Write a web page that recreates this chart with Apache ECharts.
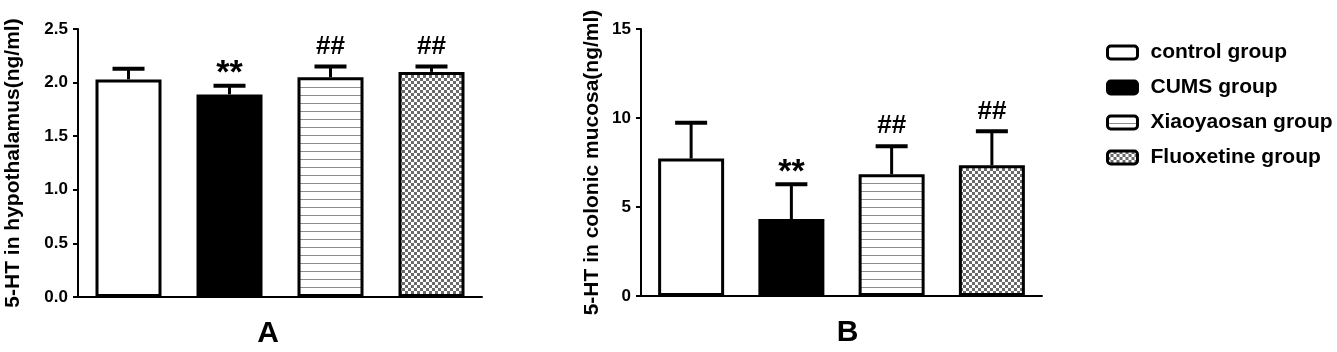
<!DOCTYPE html>
<html><head><meta charset="utf-8">
<script src="https://cdn.jsdelivr.net/npm/echarts@6/dist/echarts.min.js"></script>
<style>html,body{margin:0;padding:0;background:#fff}#c{width:1337px;height:352px}</style>
</head><body><div id="c"></div>
<script>
const groups = ['control group', 'CUMS group', 'Xiaoyaosan group', 'Fluoxetine group'];
const meanA = [2.03, 1.89, 2.05, 2.10];
const sdA = [0.10, 0.08, 0.10, 0.05];
const meanB = [7.72, 4.32, 6.84, 7.34];
const sdB = [2.02, 1.96, 1.57, 1.91];
const marks = ['', '**', '##', '##'];
const ticksA = ['0.0', '0.5', '1.0', '1.5', '2.0', '2.5'];
const ticksB = ['0', '5', '10', '15'];
const panelLabels = ['A', 'B'];
const titlesY = ['5-HT in hypothalamus(ng/ml)', '5-HT in colonic mucosa(ng/ml)'];

const FONT = '"Liberation Sans", Arial, sans-serif';
const markStyle = { '**': { size: 34, dy: -12 }, '##': { size: 26, dy: -20 }, '': { size: 20, dy: 0 } };

function stripes() {
  const c = document.createElement('canvas'); c.width = 8; c.height = 8;
  const g = c.getContext('2d');
  g.fillStyle = '#fff'; g.fillRect(0, 0, 8, 8);
  g.fillStyle = '#8c8c8c'; g.fillRect(0, 7, 8, 1);
  return c;
}
function checker() {
  const c = document.createElement('canvas'); c.width = 6; c.height = 6;
  const g = c.getContext('2d');
  g.fillStyle = '#fff'; g.fillRect(0, 0, 6, 6);
  g.fillStyle = '#6a6a6a'; g.fillRect(0, 0, 3, 3); g.fillRect(3, 3, 3, 3);
  return c;
}
const fills = ['#ffffff', '#000000', { image: stripes(), repeat: 'repeat' }, { image: checker(), repeat: 'repeat' }];

const panels = [
  { means: meanA, sds: sdA, ticks: ticksA, max: 2.5, interval: 0.5, grid: { left: 78, top: 29, width: 404, height: 268 }, nameGap: 54, labelPad: [0, 24, 0, 0] },
  { means: meanB, sds: sdB, ticks: ticksB, max: 15, interval: 5, grid: { left: 641, top: 29, width: 401, height: 267 }, nameGap: 38, labelPad: [0, 0, 0, 12] }
];

const grids = [], xAxes = [], yAxes = [], series = [];
panels.forEach((p, g) => {
  grids.push(Object.assign({ containLabel: false, outerBoundsMode: 'none' }, p.grid));
  xAxes.push({
    type: 'category', gridIndex: g, data: groups,
    axisLine: { lineStyle: { color: '#000', width: 2 } },
    axisTick: { show: false }, axisLabel: { show: false },
    name: panelLabels[g], nameLocation: 'middle', nameGap: 22,
    nameTextStyle: { fontFamily: FONT, fontWeight: 'bold', fontSize: 30, color: '#000', padding: p.labelPad }
  });
  yAxes.push({
    type: 'value', gridIndex: g, min: 0, max: p.max, interval: p.interval,
    splitLine: { show: false },
    axisLine: { show: true, lineStyle: { color: '#000', width: 2 } },
    axisTick: { show: true, length: 5, lineStyle: { color: '#000', width: 2 } },
    axisLabel: {
      margin: 10, fontFamily: FONT, fontWeight: 'bold', fontSize: 17, color: '#000',
      formatter: v => p.ticks[Math.round(v / p.interval)]
    },
    name: titlesY[g], nameLocation: 'middle', nameGap: p.nameGap,
    nameTextStyle: { fontFamily: FONT, fontWeight: 'bold', fontSize: 21, color: '#000' }
  });
  groups.forEach((name, i) => {
    series.push({
      name, type: 'bar', xAxisIndex: g, yAxisIndex: g,
      data: p.means.map((v, j) => (j === i ? v : '-')),
      barWidth: 66, barGap: '-100%',
      itemStyle: { color: fills[i], borderColor: '#000', borderWidth: 3 },
      emphasis: { disabled: true }
    });
  });
  series.push({
    type: 'custom', xAxisIndex: g, yAxisIndex: g, z: 5,
    data: p.means.map((m, i) => [i, m, p.sds[i]]),
    encode: { x: 0, y: 1 },
    renderItem: (params, api) => {
      const i = api.value(0), m = api.value(1), s = api.value(2);
      const p0 = api.coord([i, m]);
      const p1 = api.coord([i, m + s]);
      const ms = markStyle[marks[i]];
      return {
        type: 'group', children: [
          { type: 'line', shape: { x1: p0[0], y1: p0[1], x2: p1[0], y2: p1[1] }, style: { stroke: '#000', lineWidth: 3 } },
          { type: 'line', shape: { x1: p1[0] - 16, y1: p1[1], x2: p1[0] + 16, y2: p1[1] }, style: { stroke: '#000', lineWidth: 4 } },
          { type: 'text', style: { text: marks[i], x: p1[0], y: p1[1] + ms.dy, align: 'center', verticalAlign: 'middle', font: 'bold ' + ms.size + 'px ' + FONT, fill: '#000' } }
        ]
      };
    }
  });
});

const chart = echarts.init(document.getElementById('c'), null, { renderer: 'canvas' });
chart.setOption({
  animation: false,
  backgroundColor: '#fff',
  grid: grids, xAxis: xAxes, yAxis: yAxes, series,
  legend: {
    data: groups, orient: 'vertical', left: 1101, top: 37,
    icon: 'roundRect', itemWidth: 30, itemHeight: 13, itemGap: 14,
    itemStyle: { borderColor: '#000', borderWidth: 3 },
    textStyle: { fontFamily: FONT, fontWeight: 'bold', fontSize: 21, color: '#000', padding: [0, 0, 0, 8] },
    selectedMode: false
  }
});
</script></body></html>
